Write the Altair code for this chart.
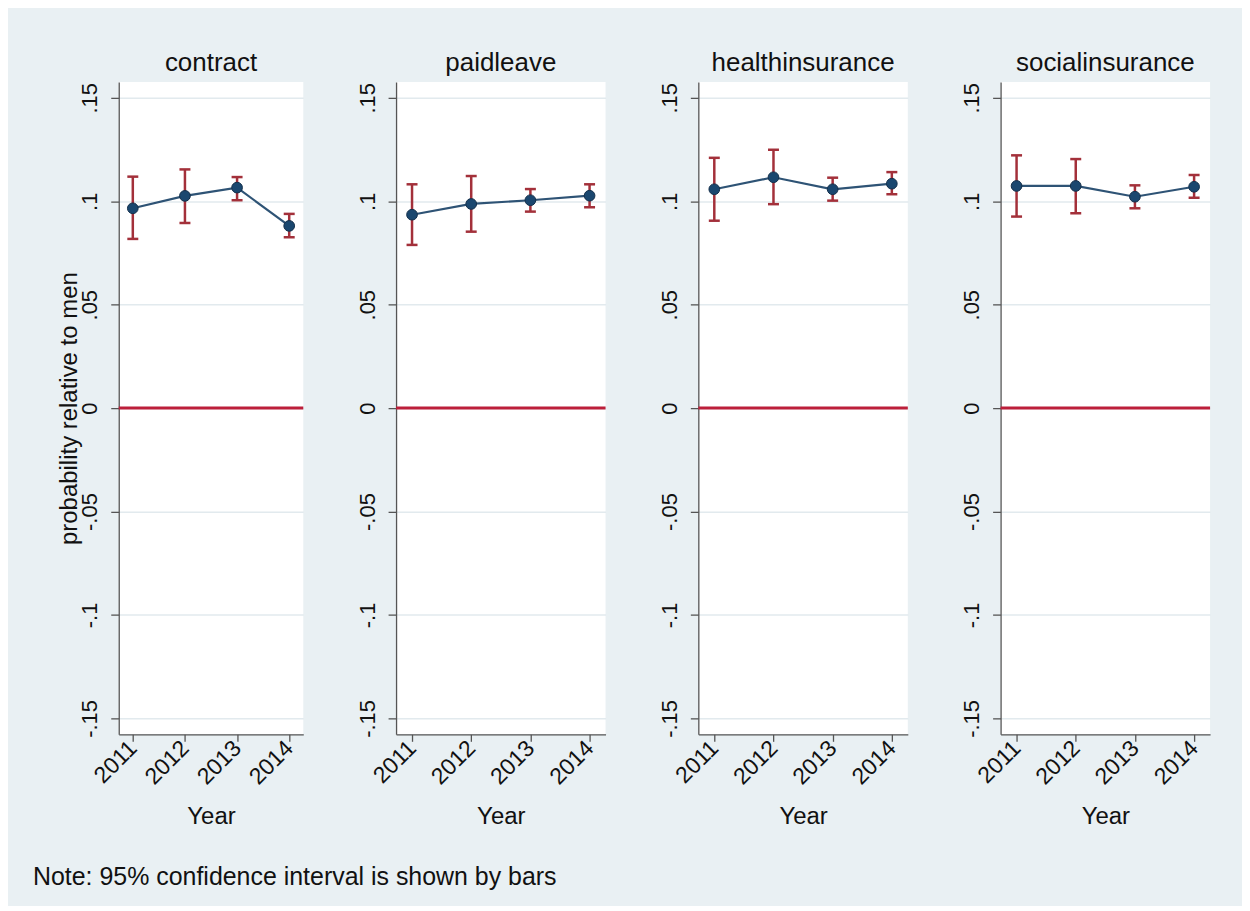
import altair as alt
import pandas as pd

# ---------------- data ----------------
years = [2011, 2012, 2013, 2014]
outcomes = ["contract", "paidleave", "healthinsurance", "socialinsurance"]

est_contract = [0.0966, 0.1026, 0.1066, 0.0881]
lo_contract = [0.0818, 0.0895, 0.1005, 0.0826]
hi_contract = [0.1119, 0.1154, 0.1117, 0.0939]

est_paidleave = [0.0935, 0.0987, 0.1005, 0.1027]
lo_paidleave = [0.0789, 0.0853, 0.0950, 0.0971]
hi_paidleave = [0.1082, 0.1122, 0.1059, 0.1082]

est_health = [0.1058, 0.1116, 0.1058, 0.1085]
lo_health = [0.0906, 0.0986, 0.1003, 0.1034]
hi_health = [0.1210, 0.1249, 0.1114, 0.1141]

est_social = [0.1074, 0.1074, 0.1022, 0.1070]
lo_social = [0.0926, 0.0942, 0.0966, 0.1017]
hi_social = [0.1222, 0.1204, 0.1077, 0.1127]

y_ticks = [-0.15, -0.1, -0.05, 0, 0.05, 0.1, 0.15]
x_ticks = [2011, 2012, 2013, 2014]
y_title = "probability relative to men"
x_title = "Year"
note = "Note: 95% confidence interval is shown by bars"

series = {
    "contract": (est_contract, lo_contract, hi_contract),
    "paidleave": (est_paidleave, lo_paidleave, hi_paidleave),
    "healthinsurance": (est_health, lo_health, hi_health),
    "socialinsurance": (est_social, lo_social, hi_social),
}

# ---------------- style ----------------
FONT = "Liberation Sans"
BG = "#E9F0F3"
NAVY = "#1A476F"
LINE = "#2E5375"
RED = "#BC1F3A"
CI = "#A3303A"
GRID = "#E2EAEE"
AXIS = "#555555"
TEXT = "#111111"

XDOM = [2010.73, 2014.27]
YDOM = [-0.1577, 0.1577]

ylabel_expr = ("abs(datum.value) < 1e-9 ? '0' : (datum.value < 0 ? '-' : '') + "
               "replace(format(abs(datum.value), '.2~f'), '0.', '.')")


def panel(name, est, lo, hi, first):
    df = pd.DataFrame({"year": years, "est": est, "lo": lo, "hi": hi})
    xscale = alt.Scale(domain=XDOM, nice=False, zero=False)
    yscale = alt.Scale(domain=YDOM, nice=False, zero=False)
    xaxis = alt.Axis(values=x_ticks, format="d", labelAngle=-45, labelAlign="right",
                     labelBaseline="middle", labelFontSize=23, labelPadding=3,
                     labelOverlap=False, labelBound=False,
                     tickSize=7, grid=False, title=x_title, titleFontSize=24,
                     titlePadding=16)
    yaxis = alt.Axis(values=y_ticks, labelExpr=ylabel_expr, labelAngle=270,
                     labelAlign="center", labelBaseline="bottom", labelFontSize=22,
                     labelPadding=9, labelOverlap=False, tickSize=8, grid=True,
                     gridColor=GRID, gridWidth=1.5, minExtent=36, maxExtent=36,
                     title=(y_title if first else None), titleFontSize=24,
                     titlePadding=1)
    x = alt.X("year:Q", scale=xscale, axis=xaxis)
    base = alt.Chart(df)
    zero = alt.Chart(pd.DataFrame({"z": [0.0]})).mark_rule(
        color=RED, strokeWidth=3).encode(
        y=alt.Y("z:Q", scale=yscale, axis=yaxis))
    line = base.mark_line(color=LINE, strokeWidth=2.2).encode(
        x=x, y=alt.Y("est:Q", scale=yscale, axis=yaxis))
    bars = base.mark_rule(color=CI, strokeWidth=2.5).encode(
        x=x, y=alt.Y("lo:Q", scale=yscale, axis=yaxis), y2="hi:Q")
    cap_lo = base.mark_tick(color=CI, orient="horizontal", size=11, thickness=2.5,
                            opacity=1).encode(
        x=x, y=alt.Y("lo:Q", scale=yscale, axis=yaxis))
    cap_hi = base.mark_tick(color=CI, orient="horizontal", size=11, thickness=2.5,
                            opacity=1).encode(
        x=x, y=alt.Y("hi:Q", scale=yscale, axis=yaxis))
    pts = base.mark_point(filled=True, size=115, color=NAVY, opacity=1,
                          stroke="#142F4A", strokeWidth=1).encode(
        x=x, y=alt.Y("est:Q", scale=yscale, axis=yaxis))
    return alt.layer(zero, line, bars, cap_lo, cap_hi, pts).properties(
        width=185 if first else 210,
        height=654,
        title=alt.TitleParams(name, fontSize=26, font=FONT, fontWeight="normal",
                              color=TEXT, anchor="middle", baseline="alphabetic",
                              offset=-15),
    )


panels = [panel(n, *series[n], first=(i == 0)) for i, n in enumerate(outcomes)]

chart = alt.hconcat(*panels, spacing=93, bounds="flush").properties(
    title=alt.TitleParams(note, orient="bottom", anchor="start", fontSize=25,
                          font=FONT, fontWeight="normal", color=TEXT,
                          offset=36, dx=-25),
    padding={"left": 25, "top": 41, "right": 30, "bottom": 15},
).configure(
    background=BG,
    font=FONT,
).configure_view(
    stroke=None, fill="white"
).configure_axis(
    labelFont=FONT, titleFont=FONT, labelColor=TEXT, titleColor=TEXT,
    titleFontWeight="normal", domainColor=AXIS, tickColor=AXIS,
    domainWidth=1.3, tickWidth=1.3,
)

chart.save("out.html", embed_options={"renderer": "svg", "actions": False})
